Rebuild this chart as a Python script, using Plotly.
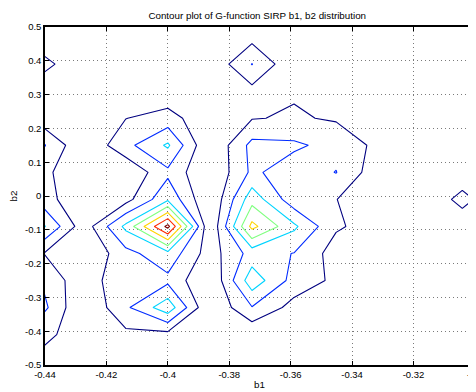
import plotly.graph_objects as go

# ---- data ----
b1_nodes = [-0.4411, -0.4274, -0.4137, -0.4000, -0.3863, -0.3726,
            -0.3589, -0.3452, -0.3315, -0.3178, -0.3041, -0.2904]
b2_nodes = [-0.49, -0.41, -0.33, -0.25, -0.17, -0.09, -0.01,
            0.07, 0.15, 0.23, 0.31, 0.39, 0.47]

g_row_m049 = [0.86, 0, 0, 0, 0, 0, 0, 0, 0, 0, 0, 0]
g_row_m041 = [1.14, 0.75, 0.76, 0.67, 0, 0.14, 0, 0, 0, 0, 0, 0]
g_row_m033 = [2.37, 0, 1.82, 3.64, 0, 1.95, 0.63, 0, 0, 0, 0, 0]
g_row_m025 = [1.95, 0.24, 1.98, 1.75, 0, 3.62, 1.62, 0.78, 0, 0, 0, 0]
g_row_m017 = [1.05, 0, 1.67, 2.67, 0.5, 2.4, 1.97, 0.54, 0.2, 0, 0, 0]
g_row_m009 = [3.26, 0.4, 3.25, 7.3, 0.05, 5.3, 3.2, 1.13, 0.57, 0, 0.3, 0]
g_row_m001 = [1.6, 0, 0.63, 2.8, 0, 3.62, 1.37, 1.02, 0.3, 0, 1.35, 0]
g_row_p007 = [1.35, 0.05, 0.13, 1.77, 0, 2.2, 1.43, 2.03, 0.34, 0, 0.3, 0]
g_row_p015 = [2.2, 0.1, 1.69, 3.15, 0, 2.3, 2.18, 1.65, 0.76, 0, 0, 0]
g_row_p023 = [0.5, 0, 0.98, 1.41, 0.24, 0.95, 1.1, 0.9, 0, 0, 0, 0]
g_row_p031 = [0.2, 0, 0, 0.3, 0, 0.68, 0.91, 0, 0, 0, 0, 0]
g_row_p039 = [1.47, 0, 0, 0, 0.16, 2.03, 0.16, 0, 0, 0, 0, 0]
g_row_p047 = [0.2, 0, 0, 0, 0, 0.68, 0, 0, 0, 0, 0, 0]

contour_levels = [1, 2, 3, 4, 5, 6, 7]
level_colors = ["rgb(0,0,128)", "rgb(0,43,255)", "rgb(0,212,255)",
                "rgb(128,255,128)", "rgb(255,212,0)", "rgb(255,43,0)",
                "rgb(128,0,0)"]

x_tick_vals = [-0.44, -0.42, -0.40, -0.38, -0.36, -0.34, -0.32]
x_tick_text = ["-0.44", "-0.42", "-0.4", "-0.38", "-0.36", "-0.34", "-0.32"]
y_tick_vals = [-0.5, -0.4, -0.3, -0.2, -0.1, 0.0, 0.1, 0.2, 0.3, 0.4, 0.5]
y_tick_text = ["-0.5", "-0.4", "-0.3", "-0.2", "-0.1", "0", "0.1", "0.2",
               "0.3", "0.4", "0.5"]

title_text = "Contour plot of G-function SIRP b1, b2 distribution"

# ---- figure ----
z_grid = [g_row_m049, g_row_m041, g_row_m033, g_row_m025, g_row_m017,
          g_row_m009, g_row_m001, g_row_p007, g_row_p015, g_row_p023,
          g_row_p031, g_row_p039, g_row_p047]

n = len(contour_levels)
colorscale = [[i / (n - 1), c] for i, c in enumerate(level_colors)]

fig = go.Figure()
fig.add_trace(go.Contour(
    x=b1_nodes, y=b2_nodes, z=z_grid,
    contours=dict(coloring="lines", start=contour_levels[0],
                  end=contour_levels[-1], size=1),
    colorscale=colorscale, zmin=contour_levels[0], zmax=contour_levels[-1],
    line=dict(width=1.1, smoothing=0),
    showscale=False, hoverinfo="skip",
))

font = "Liberation Sans, Arial, Helvetica, sans-serif"
axis_common = dict(
    showline=True, linecolor="black", linewidth=1.5, mirror="ticks",
    ticks="inside", ticklen=4, tickcolor="black", tickwidth=1,
    showgrid=True, gridcolor="#7a7a7a", gridwidth=1, griddash="1px,3px",
    zeroline=False, tickfont=dict(family=font, size=9.5, color="black"),
)

# the page body adds an 8px offset, so the figure is 8px smaller
fig.update_layout(
    width=468, height=384,
    margin=dict(l=37, r=0, t=19, b=27),
    paper_bgcolor="white", plot_bgcolor="white",
    title=dict(text=title_text, x=0.5325, xanchor="center",
               y=1 - 8 / 384, yanchor="middle", yref="container",
               font=dict(family=font, size=9.8, color="black")),
    xaxis=dict(range=[-0.44, -0.30029], tickvals=x_tick_vals,
               ticktext=x_tick_text,
               title=dict(text="b1", standoff=2,
                          font=dict(family=font, size=9.8, color="black")),
               **axis_common),
    yaxis=dict(range=[-0.5, 0.5], tickvals=y_tick_vals, ticktext=y_tick_text,
               title=dict(text="b2", standoff=6,
                          font=dict(family=font, size=9.8, color="black")),
               **axis_common),
    showlegend=False,
)

# the last tick label (-0.3) sits on the right border and is cut by the frame
fig.add_annotation(text="-0.3", xref="paper", yref="paper", x=1.0021, y=0,
                   xanchor="center", yanchor="top", yshift=-2, showarrow=False,
                   font=dict(family=font, size=9.5, color="black"))

fig.write_html("out.html")
